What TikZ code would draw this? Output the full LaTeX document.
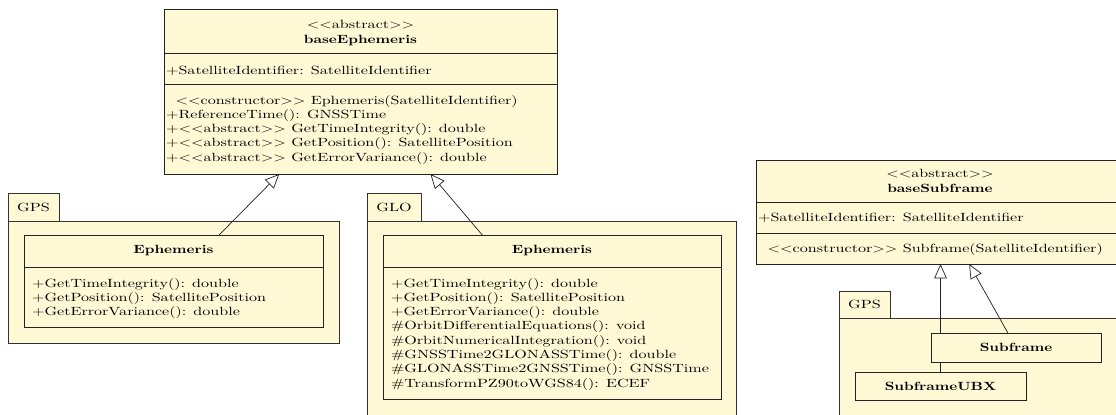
\documentclass[tikz,border=0pt]{standalone}
\usepackage{graphicx}
\usetikzlibrary{arrows.meta,fit}

\definecolor{umlfill}{RGB}{255,249,214}
\definecolor{umlline}{RGB}{35,35,35}
\definecolor{pkgline}{RGB}{50,50,50}

% horizontally widened text, as used throughout the class boxes
\newcommand{\sxf}{1.35}
\newcommand{\sxb}{1.27}
\newcommand{\wide}[1]{\scalebox{\sxf}[1]{#1}}
\newcommand{\widebf}[1]{\scalebox{\sxb}[1]{\textbf{#1}}}
\newcommand{\lines}[1]{\wide{\begin{tabular}[t]{@{}l@{}}#1\end{tabular}}}
\newcommand{\stereo}[1]{$<<$#1$>>$}

\pgfdeclarelayer{pkglayer}
\pgfdeclarelayer{connlayer}
\pgfsetlayers{pkglayer,connlayer,main}

\begin{document}
\begin{tikzpicture}[x=0.839pt,y=-0.839pt,
  box/.style={draw=umlline,fill=umlfill,line width=0.8pt,inner sep=0pt,outer sep=0pt},
  pkg/.style={box,draw=pkgline,line width=0.8pt},
  divider/.style={draw=umlline,line width=0.8pt},
  txt/.style={inner sep=0pt,outer sep=0pt,anchor=base west,font=\fontsize{10}{12}\selectfont},
  ctxt/.style={txt,anchor=base},
  mtxt/.style={txt,anchor=center},
  inherit/.style={draw=umlline,line width=0.6pt,-{Triangle[open,length=12pt,width=10.5pt]}}
]
\useasboundingbox (0,0) rectangle (1116,414);

% ---------- packages ----------
\begin{pgfonlayer}{pkglayer}
  \clip (0,0) rectangle (1116,414);
  \node[pkg,fit={(8,221) (339,343)}] (gpsPkg) {};
  \node[pkg,fit={(8,193) (59,221)}] (gpsTab) {};
  \node[mtxt] (gpsTabText) at (gpsTab) {\wide{GPS}};

  \node[pkg,fit={(367,221) (736,440)}] (gloPkg) {};
  \node[pkg,fit={(367,193) (421,221)}] (gloTab) {};
  \node[mtxt] (gloTabText) at (gloTab) {\wide{GLO}};

  \node[pkg,fit={(839,318) (1140,440)}] (sfPkg) {};
  \node[pkg,fit={(839,291) (890,318)}] (sfTab) {};
  \node[mtxt] (sfTabText) at (sfTab) {\wide{GPS}};
\end{pgfonlayer}

% ---------- baseEphemeris ----------
\node[box,fit={(164,9) (557,174)}] (baseEph) {};
\draw[divider] (baseEph.west |- 0,53) -- (baseEph.east |- 0,53);
\draw[divider] (baseEph.west |- 0,84) -- (baseEph.east |- 0,84);
\node[ctxt] (beStereo) at (360.5,28) {\wide{\stereo{abstract}}};
\node[ctxt] (beName) at (360.5,43) {\widebf{baseEphemeris}};
\node[txt] (beAttr) at (166,74) {\lines{+SatelliteIdentifier: SatelliteIdentifier}};
\node[txt] (beOps) at (166,104) {\lines{%
  \hspace*{6pt}\stereo{constructor} Ephemeris(SatelliteIdentifier)\\
  +ReferenceTime(): GNSSTime\\
  +\stereo{abstract} GetTimeIntegrity(): double\\
  +\stereo{abstract} GetPosition(): SatellitePosition\\
  +\stereo{abstract} GetErrorVariance(): double}};

% ---------- GPS::Ephemeris ----------
\node[box,fit={(24,235.5) (323,327)}] (gpsEph) {};
\draw[divider] (gpsEph.west |- 0,267) -- (gpsEph.east |- 0,267);
\node[mtxt] (gpsEphName) at (173.5,251) {\widebf{Ephemeris}};
\node[txt] (gpsEphOps) at (32,287) {\lines{%
  +GetTimeIntegrity(): double\\
  +GetPosition(): SatellitePosition\\
  +GetErrorVariance(): double}};

% ---------- GLO::Ephemeris ----------
\node[box,fit={(383,235.5) (721,399)}] (gloEph) {};
\draw[divider] (gloEph.west |- 0,267) -- (gloEph.east |- 0,267);
\node[mtxt] (gloEphName) at (552,251) {\widebf{Ephemeris}};
\node[txt] (gloEphOps) at (391,287) {\lines{%
  +GetTimeIntegrity(): double\\
  +GetPosition(): SatellitePosition\\
  +GetErrorVariance(): double\\
  \#OrbitDifferentialEquations(): void\\
  \#OrbitNumericalIntegration(): void\\
  \#GNSSTime2GLONASSTime(): double\\
  \#GLONASSTime2GNSSTime(): GNSSTime\\
  \#TransformPZ90toWGS84(): ECEF}};

% ---------- baseSubframe ----------
\node[box,fit={(756,160) (1124,264)}] (baseSub) {};
\draw[divider] (baseSub.west |- 0,202) -- (baseSub.east |- 0,202);
\draw[divider] (baseSub.west |- 0,233.5) -- (baseSub.east |- 0,233.5);
\node[ctxt] (bsStereo) at (940,177) {\wide{\stereo{abstract}}};
\node[ctxt] (bsName) at (940,192) {\widebf{baseSubframe}};
\node[txt] (bsAttr) at (758,221) {\lines{+SatelliteIdentifier: SatelliteIdentifier}};
\node[txt] (bsOps) at (758,252) {\lines{%
  \hspace*{6pt}\stereo{constructor} Subframe(SatelliteIdentifier)}};

% ---------- GPS::Subframe and SubframeUBX ----------
\node[box,fit={(931,333) (1101,362)}] (subframe) {};
\node[mtxt] (subframeName) at (subframe) {\widebf{Subframe}};
\node[box,fit={(855,372) (1026,400)}] (subUBX) {};
\node[mtxt] (subUBXName) at (subUBX) {\widebf{SubframeUBX}};

% ---------- generalisations ----------
\begin{pgfonlayer}{connlayer}
  \draw[inherit] (gpsEph) -- (baseEph);
  \draw[inherit] (gloEph) -- (baseEph);
  \draw[inherit] (subframe) -- (baseSub);
  \draw[inherit] (subUBX.north) -- (baseSub.south -| subUBX.north);
\end{pgfonlayer}
\end{tikzpicture}
\end{document}
